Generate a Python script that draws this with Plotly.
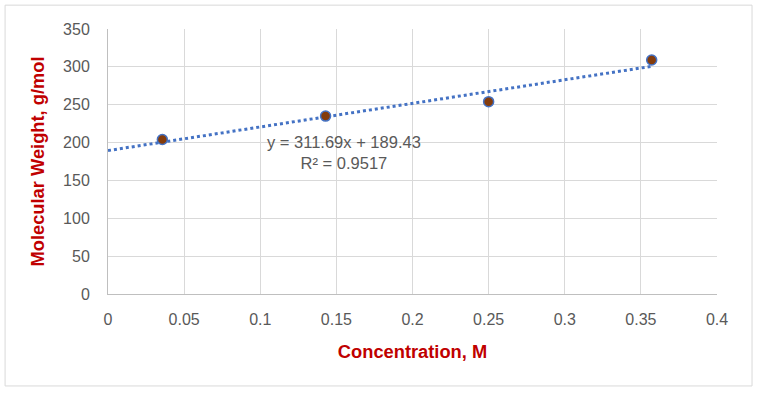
import plotly.graph_objects as go
import numpy as np

conc = [0.0357, 0.1429, 0.25, 0.3571]
mw = [204, 235, 254, 309]
slope = 311.69
intercept = 189.43
r2 = 0.9517
x_ticks = [0, 0.05, 0.1, 0.15, 0.2, 0.25, 0.3, 0.35, 0.4]
x_tick_text = ["0", "0.05", "0.1", "0.15", "0.2", "0.25", "0.3", "0.35", "0.4"]
y_ticks = [0, 50, 100, 150, 200, 250, 300, 350]

tx = np.linspace(0, max(conc), 60)
ty = slope * tx + intercept

fig = go.Figure()
fig.add_trace(go.Scatter(x=tx, y=ty, mode="lines",
                         line=dict(color="#4472C4", width=3, dash="dot"),
                         hoverinfo="skip", showlegend=False))
fig.add_trace(go.Scatter(x=conc, y=mw, mode="markers",
                         marker=dict(size=10, color="#843C0C",
                                     line=dict(color="#4472C4", width=1.5)),
                         showlegend=False))

fig.add_annotation(x=0.155, y=215, xref="x", yref="y",
                   text=f"y = {slope}x + {intercept}<br>R² = {r2}",
                   showarrow=False, xanchor="center", yanchor="top",
                   font=dict(family="Liberation Sans", size=16.5, color="#595959"),
                   align="center")

fig.add_shape(type="rect", xref="paper", yref="paper",
              x0=-0.169, x1=1.0575, y0=-0.347, y1=1.09,
              line=dict(color="#D9D9D9", width=1), layer="below")

tickfont = dict(family="Liberation Sans", size=16, color="#595959")
titlefont = dict(family="Liberation Sans", size=18.3, color="#C00000")

fig.update_layout(
    width=759, height=393,
    margin=dict(l=108, r=42, t=29, b=99),
    paper_bgcolor="white", plot_bgcolor="white",
    xaxis=dict(range=[0, 0.4], tickvals=x_ticks, ticktext=x_tick_text,
               showgrid=True, gridcolor="#D9D9D9", gridwidth=1,
               zeroline=False, showline=True, linecolor="#BFBFBF",
               tickfont=tickfont, ticks="", ticklabelstandoff=11,
               title=dict(text="<b>Concentration, M</b>", font=titlefont, standoff=17),
               fixedrange=True),
    yaxis=dict(range=[0, 350], tickvals=y_ticks,
               showgrid=True, gridcolor="#D9D9D9", gridwidth=1,
               zeroline=False, showline=True, linecolor="#BFBFBF",
               tickfont=tickfont, ticks="", ticklabelstandoff=14,
               title=dict(text="<b>Molecular Weight, g/mol</b>", font=titlefont, standoff=13),
               fixedrange=True),
)

fig.write_html("out.html")
